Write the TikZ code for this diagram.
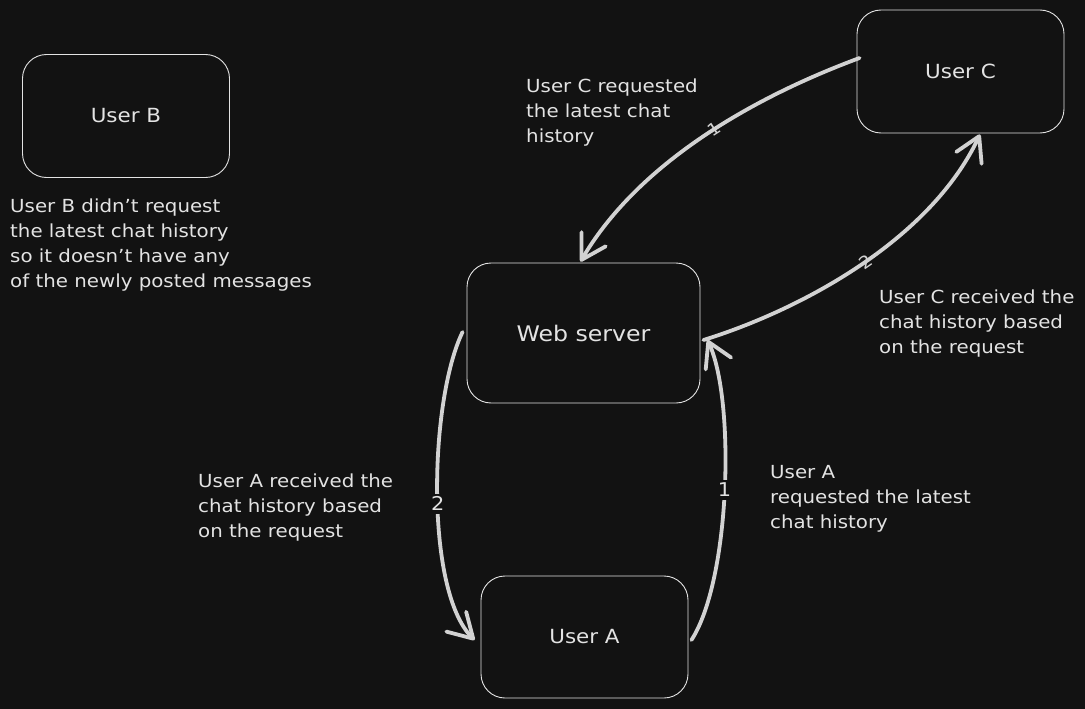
\documentclass[tikz,border=0pt]{standalone}
\usepackage{fontspec}
\setmainfont{DejaVu Sans}[FakeStretch=1.1]
\usetikzlibrary{arrows.meta,calc}
\definecolor{bg}{HTML}{121212}
\definecolor{fg}{HTML}{E3E3E3}
\definecolor{ln}{HTML}{D2D2D2}
\begin{document}
\begin{tikzpicture}[x=1pt,y=-1pt,
  box/.style={draw=fg, line width=0.9pt, rounded corners=24pt, minimum width=207pt, minimum height=123pt, text=fg, font=\fontsize{19.5}{22}\selectfont, inner sep=0pt},
  note/.style={anchor=north west, align=left, text=fg, inner sep=0pt, font=\fontsize{18}{25}\selectfont},
  conn/.style={draw=ln, line width=3.8pt, line cap=round, -{Straight Barb[length=24pt,width=28pt,round]}},
  numlbl/.style={fill=bg, text=fg, inner sep=3pt, font=\fontsize{19}{19}\selectfont},
  smalllbl/.style={text=ln, inner sep=0pt, font=\fontsize{17}{17}\selectfont, sloped},
]
\fill[bg] (0,0) rectangle (1085,709);
\useasboundingbox (0,0) rectangle (1085,709);

\node[box] (ub) at (126,116) {User B};
\node[box] (uc) at (960.5,71.5) {User C};
\node[box, minimum width=233pt, minimum height=140pt, font=\fontsize{21.5}{24}\selectfont] (ws) at (583.5,333) {Web server};
\node[box, minimum height=122pt] (ua) at (584.5,637) {User A};

\node[note] (nc) at (526,79) {User C requested\\the latest chat\\history};
\node[note] (nb) at (10,199) {User B didn't request\\the latest chat history\\so it doesn't have any\\of the newly posted messages};
\node[note] (ncr) at (879,290) {User C received the\\chat history based\\on the request};
\node[note] (nar) at (198,474) {User A received the\\chat history based\\on the request};
\node[note] (naq) at (770,465) {User A\\requested the latest\\chat history};

% User C -> Web server
\draw[conn] ($(uc.west)+(3,-13.5)$) .. controls +(-100,37) and +(60,-102) .. ($(ws.north)+(-3,-1)$)
  node[smalllbl, pos=0.47] (l1c) {1};
% Web server -> User C
\draw[conn] ($(ws.east)+(3,7)$) .. controls +(97,-30) and +(-50,106) .. ($(uc.south)+(19.5,1)$)
  node[smalllbl, pos=0.52] (l2c) {2};
% Web server -> User A
\draw[conn] ($(ws.west)+(-4,-1)$) .. controls +(-33,68) and +(-50,-50) .. ($(ua.west)+(-6,3)$)
  node[numlbl, pos=0.53] (l2a) {2};
% User A -> Web server
\draw[conn] ($(ua.east)+(3,3)$) .. controls +(39,-60) and +(28,60) .. ($(ws.east)+(7,7)$)
  node[numlbl, pos=0.5] (l1a) {1};
\end{tikzpicture}
\end{document}
